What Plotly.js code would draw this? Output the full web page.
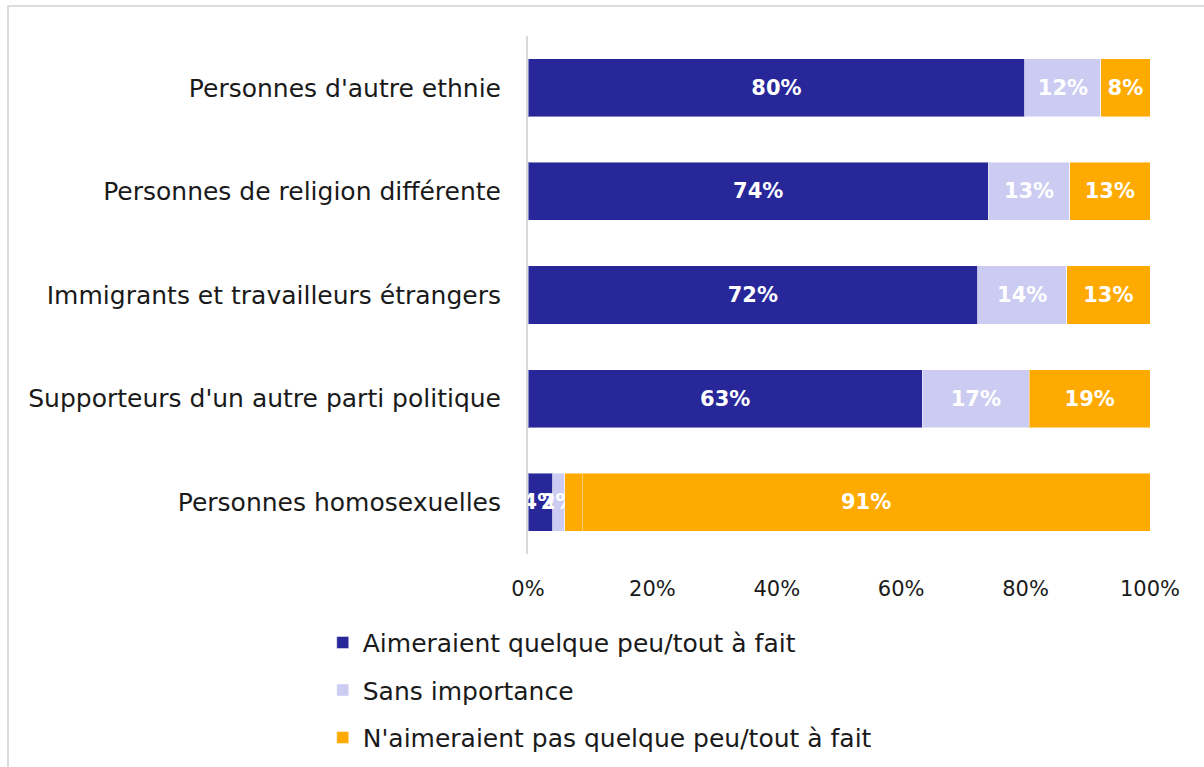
<!DOCTYPE html>
<html>
<head>
<meta charset="utf-8">
<script src="https://cdn.plot.ly/plotly-3.0.1.min.js"></script>
<style>
  html, body { margin: 0; padding: 0; background: #fff; }
  #wrap { position: relative; width: 1204px; height: 767px; overflow: hidden; }
  #frame { position: absolute; left: 7px; top: 5px; width: 1210px; height: 800px; border: 2px solid #dcdcdc; box-sizing: border-box; pointer-events: none; }
  #chart { position: absolute; left: 0; top: 0; width: 1204px; height: 767px; }
</style>
</head>
<body>
<div id="wrap">
  <div id="chart"></div>
  <div id="frame"></div>
</div>
<script>
const categories = [
  "Personnes d'autre ethnie",
  "Personnes de religion différente",
  "Immigrants et travailleurs étrangers",
  "Supporteurs d'un autre parti politique",
  "Personnes homosexuelles"
];
const seriesNames = [
  "Aimeraient quelque peu/tout à fait",
  "Sans importance",
  "N'aimeraient pas quelque peu/tout à fait"
];
const aimeraient = [79.9, 74.0, 72.3, 63.4, 4.0];
const sansImportance = [12.2, 13.1, 14.3, 17.2, 1.9];
const autre = [0, 0, 0, 0, 2.8];
const naimeraientPas = [7.9, 12.9, 13.4, 19.4, 91.3];
const xTickVals = [0, 20, 40, 60, 80, 100];
const xTickText = ["0%", "20%", "40%", "60%", "80%", "100%"];

const colors = ["#27279a", "#ccccf2", "#ffaa00"];
const FONT = "DejaVu Sans, sans-serif";

function barTrace(name, values, color, group, showText, showLegend) {
  return {
    type: "bar",
    orientation: "h",
    name: name,
    y: categories,
    x: values,
    legendgroup: group,
    showlegend: showLegend,
    marker: { color: color, line: { color: "rgba(255,255,255,0.45)", width: 1 } },
    texttemplate: showText ? "%{x:.0f}%" : "",
    textposition: "inside",
    insidetextanchor: "middle",
    textangle: 0,
    constraintext: "none",
    insidetextfont: { family: FONT, size: 21, color: "#ffffff", weight: "bold" },
    hoverinfo: "skip"
  };
}

const data = [
  barTrace(seriesNames[0], aimeraient, colors[0], "g1", true, true),
  barTrace(seriesNames[1], sansImportance, colors[1], "g2", true, true),
  barTrace("Autre", autre, colors[2], "g4", false, false),
  barTrace(seriesNames[2], naimeraientPas, colors[2], "g3", true, true)
];

const layout = {
  width: 1204,
  height: 767,
  barmode: "stack",
  bargap: 0.44,
  paper_bgcolor: "rgba(0,0,0,0)",
  plot_bgcolor: "rgba(0,0,0,0)",
  margin: { l: 528, r: 54, t: 36, b: 213, autoexpand: false },
  font: { family: FONT, size: 25, color: "#1a1a1a" },
  showlegend: true,
  xaxis: {
    range: [0, 100],
    tickvals: xTickVals,
    ticktext: xTickText,
    showgrid: false,
    zeroline: false,
    showline: false,
    ticks: "outside",
    ticklen: 16,
    tickcolor: "rgba(0,0,0,0)",
    tickfont: { family: FONT, size: 21, color: "#1a1a1a" },
    fixedrange: true
  },
  yaxis: {
    type: "category",
    autorange: "reversed",
    showgrid: false,
    zeroline: false,
    showline: true,
    linecolor: "#d9d9d9",
    linewidth: 2,
    ticks: "outside",
    ticklen: 20,
    tickcolor: "rgba(0,0,0,0)",
    tickfont: { family: FONT, size: 25, color: "#1a1a1a" },
    fixedrange: true
  },
  legend: {
    orientation: "v",
    x: -0.33,
    xanchor: "left",
    y: -0.127,
    yanchor: "top",
    traceorder: "grouped",
    tracegroupgap: 12,
    font: { family: FONT, size: 25, color: "#1a1a1a" },
    itemwidth: 30,
    bgcolor: "rgba(0,0,0,0)"
  }
};

Plotly.newPlot("chart", data, layout, { displayModeBar: false, staticPlot: true });
</script>
</body>
</html>
